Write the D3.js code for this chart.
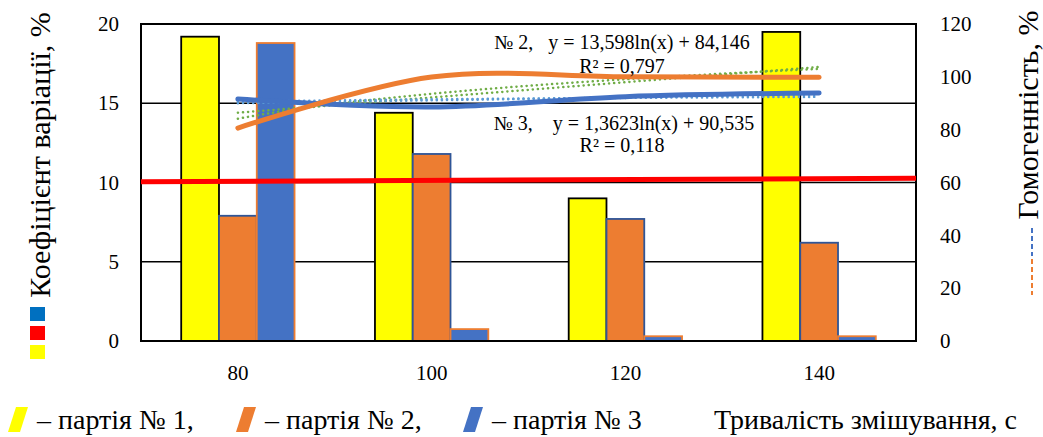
<!DOCTYPE html>
<html>
<head>
<meta charset="utf-8">
<script src="https://cdn.jsdelivr.net/npm/d3@7"></script>
<style>
  body { margin: 0; background: #fff; }
  svg text { font-family: "Liberation Serif", "DejaVu Serif", "Times New Roman", serif; fill: #000; }
</style>
</head>
<body>
<div id="chart"></div>
<script>
    // categories: mixing duration, s
    var durations = [80, 100, 120, 140];

    // coefficient of variation, % (left axis)
    var batch1 = [19.2, 14.4, 9.0, 19.5];
    var batch2 = [7.9, 11.8, 7.7, 6.2];
    var batch3 = [18.8, 0.75, 0.3, 0.3];

    // homogeneity, % (right axis)
    var homog2 = [80.6, 99.9, 100.0, 99.8];
    var homog3 = [91.6, 88.6, 92.5, 93.9];
    var redLevel = [{ t: 70, v: 60.3 }, { t: 150, v: 61.6 }];

    // log trendlines from the chart
    var trend2 = { a: 13.598, b: 84.146 };
    var trend3 = { a: 1.3623, b: 90.535 };

    var leftTicks = [0, 5, 10, 15, 20];
    var rightTicks = [0, 20, 40, 60, 80, 100, 120];

    var W = 1043, H = 437;
    var plot = { left: 141, right: 916, top: 24, bottom: 341 };
    var serif = "'Liberation Serif', 'DejaVu Serif', 'Times New Roman', serif";

    var svg = d3.select("#chart")
      .append("svg")
      .attr("width", W)
      .attr("height", H)
      .attr("font-family", serif);

    var x = d3.scaleBand()
      .domain(durations)
      .range([plot.left, plot.right])
      .padding(0);

    var groupW = x.bandwidth() * 0.585;
    var xSub = d3.scaleBand()
      .domain([0, 1, 2])
      .range([(x.bandwidth() - groupW) / 2, (x.bandwidth() + groupW) / 2]);

    // continuous x for lines (category value -> pixel)
    var xl = d3.scaleLinear()
      .domain([70, 150])
      .range([plot.left, plot.right]);

    var yL = d3.scaleLinear().domain([0, 20]).range([plot.bottom, plot.top]);
    var yR = d3.scaleLinear().domain([0, 120]).range([plot.bottom, plot.top]);

    // gridlines
    svg.append("g")
      .selectAll("line")
      .data(leftTicks.filter(function (d) { return d > 0 && d < 20; }))
      .enter().append("line")
      .attr("x1", plot.left).attr("x2", plot.right)
      .attr("y1", function (d) { return yL(d); })
      .attr("y2", function (d) { return yL(d); })
      .attr("stroke", "#000").attr("stroke-width", 1.5);

    // bars
    var series = [
      { vals: batch1, fill: "#FFFF00", stroke: "#000000" },
      { vals: batch2, fill: "#ED7D31", stroke: "#2F5597" },
      { vals: batch3, fill: "#4472C4", stroke: "#ED7D31" }
    ];
    series.forEach(function (s, si) {
      svg.append("g")
        .selectAll("rect")
        .data(s.vals)
        .enter().append("rect")
        .attr("x", function (d, i) { return x(durations[i]) + xSub(si); })
        .attr("y", function (d) { return yL(d); })
        .attr("width", xSub.bandwidth())
        .attr("height", function (d) { return plot.bottom - yL(d); })
        .attr("fill", s.fill)
        .attr("stroke", s.stroke)
        .attr("stroke-width", 1.8);
    });

    // plot frame
    svg.append("rect")
      .attr("x", plot.left).attr("y", plot.top)
      .attr("width", plot.right - plot.left)
      .attr("height", plot.bottom - plot.top)
      .attr("fill", "none")
      .attr("stroke", "#000").attr("stroke-width", 2);

    // red line
    svg.append("path")
      .datum(redLevel)
      .attr("d", d3.line()
        .x(function (d) { return xl(d.t); })
        .y(function (d) { return yR(d.v); }))
      .attr("fill", "none")
      .attr("stroke", "#FF0000").attr("stroke-width", 5);

    // trendlines
    function logTrend(tr) {
      var pts = [];
      for (var k = 1; k <= 4.0001; k += 0.05) {
        pts.push({ t: 80 + (k - 1) * 20, v: tr.a * Math.log(k) + tr.b });
      }
      return pts;
    }
    function linTrend(vals) {
      var xs = [1, 2, 3, 4];
      var mx = d3.mean(xs), my = d3.mean(vals);
      var num = 0, den = 0;
      xs.forEach(function (xx, i) { num += (xx - mx) * (vals[i] - my); den += (xx - mx) * (xx - mx); });
      var sl = num / den, ic = my - sl * mx;
      return [{ t: 80, v: ic + sl }, { t: 140, v: ic + sl * 4 }];
    }
    var trendLine = d3.line()
      .x(function (d) { return xl(d.t); })
      .y(function (d) { return yR(d.v); });

    [
      { pts: logTrend(trend2), c: "#70AD47" },
      { pts: linTrend(homog2), c: "#70AD47" },
      { pts: logTrend(trend3), c: "#5B9BD5" },
      { pts: linTrend(homog3), c: "#5B9BD5" }
    ].forEach(function (t) {
      svg.append("path")
        .datum(t.pts)
        .attr("d", trendLine)
        .attr("fill", "none")
        .attr("stroke", t.c)
        .attr("stroke-width", 2.5)
        .attr("stroke-linecap", "round")
        .attr("stroke-dasharray", "0.1,5");
    });

    // smoothed homogeneity lines
    var smooth = d3.line()
      .x(function (d, i) { return xl(durations[i]); })
      .y(function (d) { return yR(d); })
      .curve(d3.curveCatmullRom.alpha(0));

    svg.append("path").datum(homog3).attr("d", smooth)
      .attr("fill", "none").attr("stroke", "#4472C4").attr("stroke-width", 5)
      .attr("stroke-linecap", "round");
    svg.append("path").datum(homog2).attr("d", smooth)
      .attr("fill", "none").attr("stroke", "#ED7D31").attr("stroke-width", 5)
      .attr("stroke-linecap", "round");

    // equations (non-breaking spaces keep the wide gaps)
    var nb = "\u00A0";
    var eq = svg.append("g")
      .attr("font-size", 20)
      .attr("text-anchor", "middle");
    eq.append("text").attr("x", 622).attr("y", 49).text("№ 2," + nb + nb + nb + "y = 13,598ln(x) + 84,146");
    eq.append("text").attr("x", 622).attr("y", 73).text("R² = 0,797");
    eq.append("text").attr("x", 624).attr("y", 130).text("№ 3," + nb + nb + nb + nb + "y = 1,3623ln(x) + 90,535");
    eq.append("text").attr("x", 622).attr("y", 152).text("R² = 0,118");

    // axes
    var axL = svg.append("g")
      .attr("transform", "translate(" + plot.left + ",0)")
      .call(d3.axisLeft(yL).tickValues(leftTicks).tickSize(0).tickPadding(22));
    var axR = svg.append("g")
      .attr("transform", "translate(" + plot.right + ",0)")
      .call(d3.axisRight(yR).tickValues(rightTicks).tickSize(0).tickPadding(24));
    var axB = svg.append("g")
      .attr("transform", "translate(0," + plot.bottom + ")")
      .call(d3.axisBottom(x).tickSize(0).tickPadding(24));
    [axL, axR, axB].forEach(function (a) {
      a.attr("font-family", serif);
      a.select(".domain").remove();
      a.selectAll("text")
        .attr("font-size", 21)
        .attr("fill", "#000");
    });

    // axis titles
    svg.append("text")
      .attr("transform", "translate(50,155) rotate(-90)")
      .attr("text-anchor", "middle")
      .attr("font-size", 30)
      .text("Коефіцієнт варіації, %");
    svg.append("text")
      .attr("transform", "translate(1038,115) rotate(-90)")
      .attr("text-anchor", "middle")
      .attr("font-size", 30)
      .text("Гомогенність, %");

    // coloured squares below left title
    ["#0070C0", "#FF0000", "#FFFF00"].forEach(function (c, i) {
      svg.append("rect")
        .attr("x", 30).attr("y", 307 + i * 19)
        .attr("width", 15).attr("height", 14)
        .attr("fill", c);
    });

    // dashed marks below right title
    svg.append("line")
      .attr("x1", 1032).attr("x2", 1032).attr("y1", 228).attr("y2", 256)
      .attr("stroke", "#4472C4").attr("stroke-width", 2).attr("stroke-dasharray", "5,3");
    svg.append("line")
      .attr("x1", 1032).attr("x2", 1032).attr("y1", 259).attr("y2", 295)
      .attr("stroke", "#ED7D31").attr("stroke-width", 2).attr("stroke-dasharray", "5,3");

    // bottom legend
    var legendItems = [
      { x: 8, c: "#FFFF00", label: "– партія № 1," },
      { x: 236, c: "#ED7D31", label: "– партія № 2," },
      { x: 463, c: "#4472C4", label: "– партія № 3" }
    ];
    legendItems.forEach(function (d) {
      svg.append("polygon")
        .attr("points", [
          [d.x, 432], [d.x + 12, 432], [d.x + 20, 407], [d.x + 8, 407]
        ].join(" "))
        .attr("fill", d.c);
      svg.append("text")
        .attr("x", d.x + 29).attr("y", 429)
        .attr("font-size", 28)
        .text(d.label);
    });
    svg.append("text")
      .attr("x", 714).attr("y", 429)
      .attr("font-size", 28)
      .text("Тривалість змішування, с");
</script>
</body>
</html>
